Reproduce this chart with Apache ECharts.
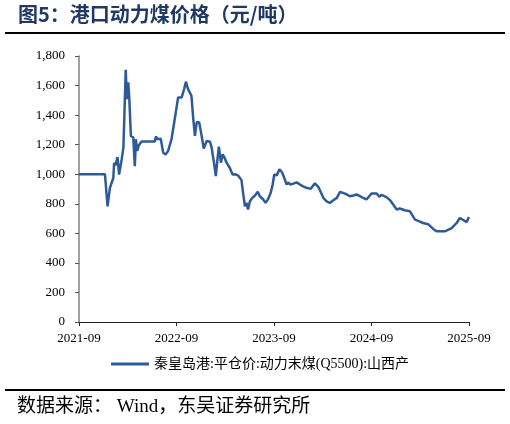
<!DOCTYPE html>
<html>
<head>
<meta charset="utf-8">
<script src="https://cdn.jsdelivr.net/npm/echarts@6/dist/echarts.min.js"></script>
<style>
html,body{margin:0;padding:0;background:#fff;}
#c{width:510px;height:424px;}
</style>
</head>
<body>
<div id="c"></div>
<script>
var titleText = '图5：港口动力煤价格（元/吨）';
var sourceText = '数据来源： Wind，东吴证券研究所';
var seriesName = '秦皇岛港:平仓价:动力末煤(Q5500):山西产';
var xTickLabels = ['2021-09', '2022-09', '2023-09', '2024-09', '2025-09'];
var yTicks = [0, 200, 400, 600, 800, 1000, 1200, 1400, 1600, 1800];

var dates = [
'2021-09-01','2021-12-07','2021-12-17','2021-12-26','2022-01-08','2022-01-11','2022-01-16','2022-01-24','2022-01-30',
'2022-02-08','2022-02-14','2022-02-17','2022-02-22','2022-02-26','2022-03-03','2022-03-07','2022-03-13','2022-03-22',
'2022-03-28','2022-04-01','2022-04-06','2022-04-12','2022-04-22','2022-06-11','2022-06-15','2022-06-22','2022-07-03',
'2022-07-12','2022-07-21','2022-07-31','2022-08-13','2022-08-25','2022-09-07','2022-09-20','2022-09-29','2022-10-06',
'2022-10-14','2022-10-27','2022-11-03','2022-11-09','2022-11-16','2022-11-25','2022-12-04','2022-12-12','2022-12-23',
'2023-01-05','2023-01-11','2023-01-20','2023-01-27','2023-02-01','2023-02-07','2023-02-14','2023-02-20','2023-02-27',
'2023-03-06','2023-03-18','2023-03-29','2023-04-07','2023-04-19','2023-05-01','2023-05-07','2023-05-14','2023-05-20',
'2023-05-26','2023-06-02','2023-06-11','2023-06-21','2023-07-01','2023-07-09','2023-07-22','2023-07-31','2023-08-10',
'2023-08-20','2023-08-27','2023-09-02','2023-09-11','2023-09-21','2023-09-30','2023-10-09','2023-10-18','2023-10-24',
'2023-10-31','2023-11-12','2023-11-25','2023-12-07','2023-12-19','2024-01-01','2024-01-17','2024-02-02','2024-02-14',
'2024-02-24','2024-03-03','2024-03-16','2024-03-28','2024-04-10','2024-04-23','2024-05-05','2024-05-17','2024-05-30',
'2024-06-11','2024-06-24','2024-07-06','2024-07-31','2024-08-13','2024-09-01','2024-09-20','2024-09-30','2024-10-08',
'2024-10-27','2024-11-09','2024-11-21','2024-12-04','2024-12-16','2025-01-04','2025-01-23','2025-02-11','2025-02-24',
'2025-03-12','2025-03-31','2025-04-19','2025-05-01','2025-06-02','2025-06-27','2025-07-16','2025-07-28','2025-08-10',
'2025-08-23','2025-09-01'
];
var prices = [
1000,1000,783,908,976,1078,1060,1116,998,
1100,1180,1372,1707,1508,1621,1508,1259,1248,
1055,1237,1157,1196,1221,1221,1255,1237,1240,
1146,1133,1157,1237,1370,1520,1520,1576,1626,
1576,1531,1372,1259,1354,1350,1259,1173,1225,
1220,1180,1078,987,1078,1187,1078,1134,1110,
1078,1044,998,1000,990,960,874,783,806,
761,817,840,856,881,851,829,806,833,
878,930,998,992,1033,1015,976,930,945,
930,936,945,930,918,908,901,938,915,
874,840,817,806,824,840,880,874,863,
851,856,863,840,829,870,870,848,860,
845,825,795,761,768,756,750,693,683,
670,662,630,614,614,636,670,704,690,
676,711
];

// months elapsed since 2021-09-01
function monthOffset(s) {
  var p = s.split('-');
  var y = +p[0], m = +p[1], d = +p[2];
  var dim = new Date(y, m, 0).getDate();
  return (y - 2021) * 12 + (m - 9) + (d - 1) / dim;
}
var seriesData = dates.map(function (d, i) { return [monthOffset(d), prices[i]]; });

var serif = '"Liberation Serif", "Times New Roman", "Noto Sans CJK SC", serif';
var cjk = '"Liberation Serif", "Noto Sans CJK SC", serif';
var lineColor = '#2e5b97';

var chart = echarts.init(document.getElementById('c'), null, {renderer: 'canvas'});
chart.setOption({
  animation: false,
  backgroundColor: '#ffffff',
  grid: {left: 79, right: 41, top: 56, bottom: 102, containLabel: false},
  xAxis: {
    type: 'value',
    min: 0, max: 48, interval: 12,
    axisLine: {show: true, lineStyle: {color: '#222', width: 1.2}},
    axisTick: {show: true, inside: false, length: 4, lineStyle: {color: '#222'}},
    splitLine: {show: false},
    axisLabel: {
      color: '#000', fontFamily: serif, fontSize: 13, margin: 10,
      formatter: function (v) { return xTickLabels[Math.round(v / 12)]; }
    }
  },
  yAxis: {
    type: 'value',
    min: yTicks[0], max: yTicks[yTicks.length - 1], interval: 200,
    axisLine: {show: true, lineStyle: {color: '#808080', width: 1.5}},
    axisTick: {show: true, inside: false, length: 4, lineStyle: {color: '#555'}},
    splitLine: {show: false},
    axisLabel: {
      color: '#000', fontFamily: serif, fontSize: 13, margin: 14,
      formatter: function (v) { return v.toLocaleString('en-US'); }
    }
  },
  legend: {
    left: 106, top: 352,
    itemWidth: 38, itemHeight: 3, itemGap: 10,
    icon: 'rect',
    textStyle: {color: '#000', fontFamily: cjk, fontSize: 14},
    data: [seriesName]
  },
  series: [{
    name: seriesName,
    type: 'line',
    data: seriesData,
    showSymbol: false,
    symbol: 'none',
    smooth: false,
    color: lineColor,
    lineStyle: {color: lineColor, width: 2.5}
  }],
  graphic: [
    {type: 'text', left: 18, top: 4,
      style: {text: titleText, fill: '#1f3864', font: 'bold 20px "Noto Sans CJK SC", "Liberation Serif", serif'}},
    {type: 'rect', left: 5, top: 32, shape: {width: 500, height: 2}, style: {fill: '#000'}},
    {type: 'rect', left: 5, top: 389, shape: {width: 500, height: 2}, style: {fill: '#000'}},
    {type: 'text', left: 17, top: 398,
      style: {text: sourceText, fill: '#000', font: '19px "Liberation Serif", "Noto Sans CJK SC", serif'}}
  ]
});
</script>
</body>
</html>
